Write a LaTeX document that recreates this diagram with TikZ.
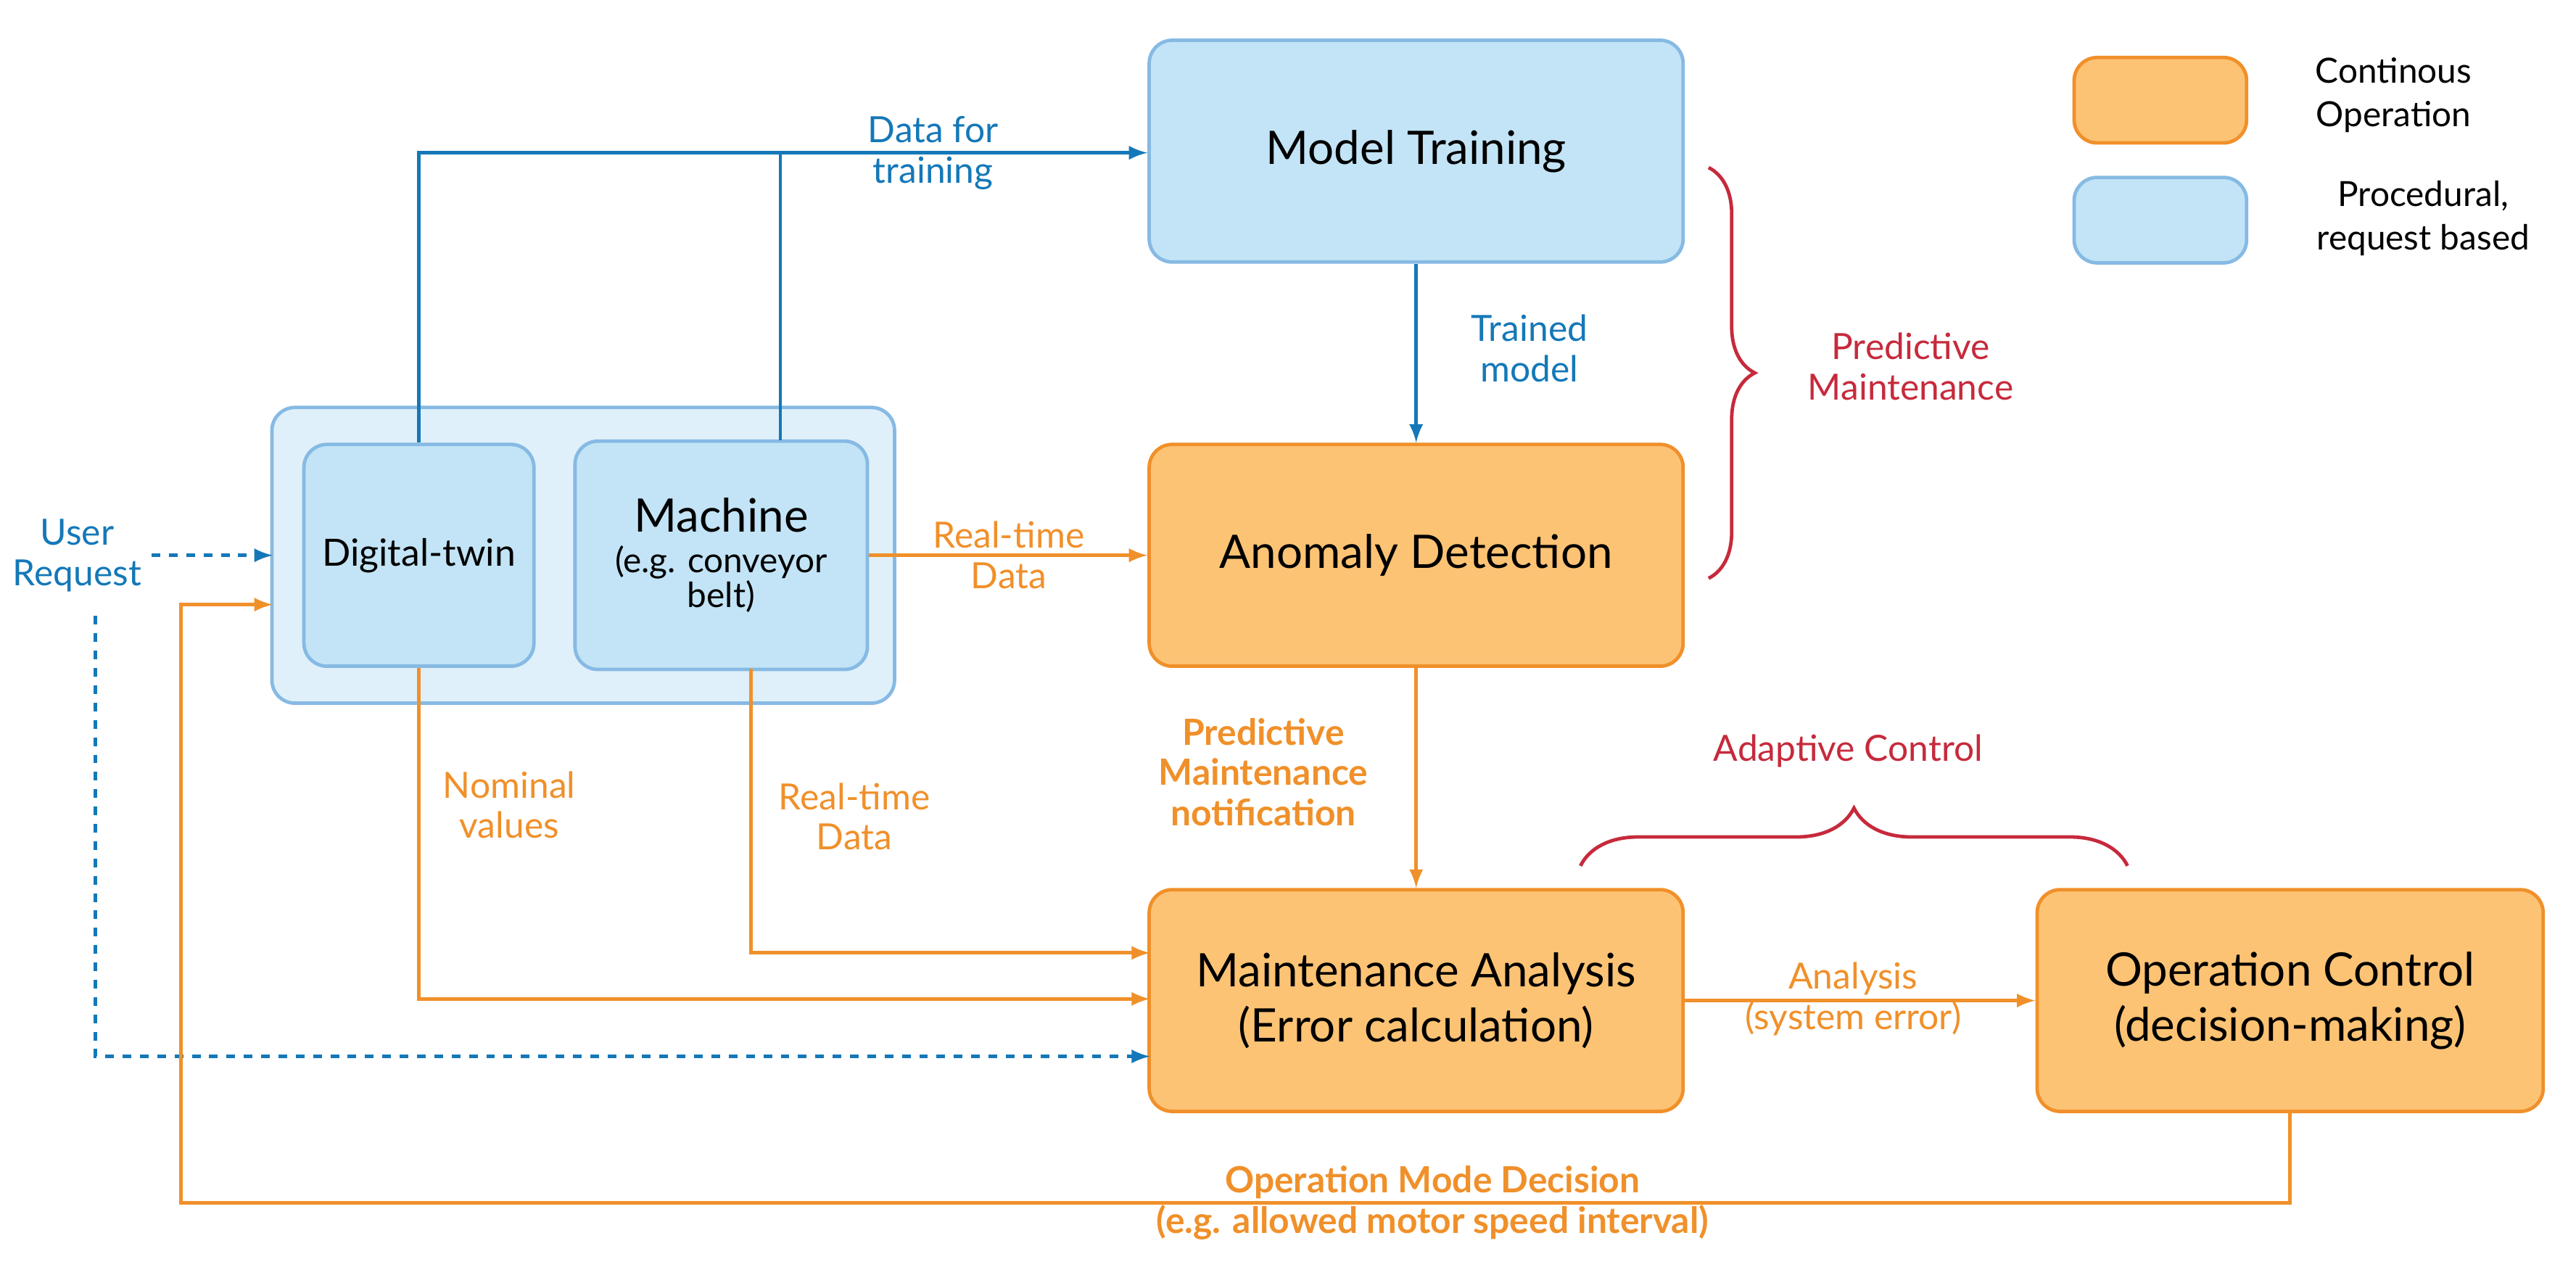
\documentclass[tikz,border=0pt]{standalone}
\usepackage{fontspec}
\setmainfont{Lato}
\usetikzlibrary{calc}
\usetikzlibrary{decorations.pathreplacing}
\definecolor{blueFill}{HTML}{C2E4F6}
\definecolor{blueEdge}{HTML}{86BAE4}
\definecolor{blueLine}{HTML}{1478B8}
\definecolor{orangeFill}{HTML}{FDC374}
\definecolor{orangeEdge}{HTML}{F0902A}
\definecolor{braceRed}{HTML}{C62A3C}
\definecolor{outerFill}{HTML}{E0F0FA}
\tikzset{
  stage/.style={draw, line width=1.2pt, rounded corners=8pt, align=center, inner sep=0pt},
  cont/.style={stage, fill=orangeFill, draw=orangeEdge},
  proc/.style={stage, fill=blueFill, draw=blueEdge},
  bflow/.style={->, >=latex, line width=1.2pt, color=blueLine},
  oflow/.style={->, >=latex, line width=1.2pt, color=orangeEdge},
  blab/.style={color=blueLine, font=\fontsize{12.5}{14}\selectfont, align=center},
  olab/.style={color=orangeEdge, font=\fontsize{12.5}{14}\selectfont, align=center},
  obold/.style={olab, font=\fontsize{12.5}{14}\selectfont\bfseries},
  rlab/.style={color=braceRed, font=\fontsize{12.5}{14}\selectfont, align=center},
  big/.style={font=\fontsize{16}{19}\selectfont},
}
\begin{document}
\begin{tikzpicture}[x=0.02cm, y=-0.02cm]
      \useasboundingbox (0,0) rectangle (1568,776);

      %% Stages
      \node[proc, big, minimum width=325*0.02cm, minimum height=135*0.02cm] (train) at (862,92) {Model Training};
      \node[cont, big, minimum width=325*0.02cm, minimum height=135*0.02cm] (detect) at (862,338) {Anomaly Detection};
      \node[cont, big, minimum width=325*0.02cm, minimum height=135*0.02cm] (analysis) at (862,609) {Maintenance Analysis\\(Error calculation)};
      \node[cont, big, minimum width=308*0.02cm, minimum height=135*0.02cm] (control) at (1394,609) {Operation Control\\(decision-making)};

      %% Plant: digital twin and machine
      \node[stage, fill=outerFill, draw=blueEdge, minimum width=379*0.02cm, minimum height=180*0.02cm] (plant) at (355,338) {};
      \node[proc, font=\fontsize{13}{16}\selectfont, minimum width=140*0.02cm, minimum height=135*0.02cm] (twin) at (255,338) {Digital-twin};
      \node[proc, minimum width=178*0.02cm, minimum height=139*0.02cm] (machine) at (439,338)
        {{\fontsize{16}{19}\selectfont Machine}\\[2pt]{\fontsize{12}{15}\selectfont (e.g. conveyor}\\{\fontsize{12}{15}\selectfont belt)}};

      %% Legend
      \node[cont, minimum width=105*0.02cm, minimum height=52*0.02cm] (legC) at (1315,61) {};
      \node[proc, minimum width=105*0.02cm, minimum height=52*0.02cm] (legP) at (1315,134) {};
      \node[align=center, font=\fontsize{12}{15}\selectfont] at (1457,58) {Continous\\Operation};
      \node[align=center, font=\fontsize{12}{15}\selectfont] at (1475,133) {Procedural,\\request based};

      %% Training data
      \coordinate (tjoin) at (475,93);
      \coordinate (mtop) at (475,268);
      \draw[line width=1.2pt, color=blueLine] (twin.north) |- (tjoin);
      \draw[line width=1.2pt, color=blueLine] (mtop) -- (tjoin);
      \draw[bflow] (tjoin) -- (train.west |- tjoin);
      \node[blab] at (568,93) {Data for\\training};
      \draw[bflow] (train.south) -- (detect.north);
      \node[blab] at (931,212) {Trained\\model};

      %% Real-time data
      \draw[oflow] (machine.east) -- (detect.west);
      \node[olab] at (614,338) {Real-time\\Data};
      \draw[oflow] (detect.south) -- (analysis.north);
      \node[obold] at (769,470) {Predictive\\Maintenance\\notification};
      \coordinate (mbot) at (457,407);
      \coordinate (rt) at (700,580);
      \coordinate (nom) at (700,608);
      \draw[oflow] (mbot) |- (rt);
      \node[olab] at (520,497) {Real-time\\Data};
      \draw[oflow] (twin.south) |- (nom);
      \node[olab] at (310,490) {Nominal\\values};
      \draw[oflow] (analysis.east) -- (control.west);
      \node[olab] at (1128,608) {Analysis\\(system error)};

      %% User request
      \node[blab] (user) at (47,338) {User\\Request};
      \coordinate (ureq) at (166,338);
      \coordinate (udown) at (58,375);
      \coordinate (uend) at (700,643);
      \draw[bflow, dashed] (user.east) -- (ureq);
      \draw[bflow, dashed] (udown) |- (uend);

      %% Feedback
      \coordinate (fb) at (110,732);
      \coordinate (fbend) at (166,368);
      \draw[oflow] (control.south) |- (fb) |- (fbend);
      \node[obold] at (872,732) {Operation Mode Decision\\(e.g. allowed motor speed interval)};

      %% Braces
      \draw[line width=1.2pt, color=braceRed, decorate, decoration={brace, amplitude=16pt}]
        (1040,102) -- (1040,352);
      \node[rlab] at (1163,223) {Predictive\\Maintenance};
      \draw[line width=1.2pt, color=braceRed, decorate, decoration={brace, amplitude=20pt}]
        (962,527) -- (1295,527);
      \node[rlab] at (1125,457) {Adaptive Control};
    \end{tikzpicture}
\end{document}
